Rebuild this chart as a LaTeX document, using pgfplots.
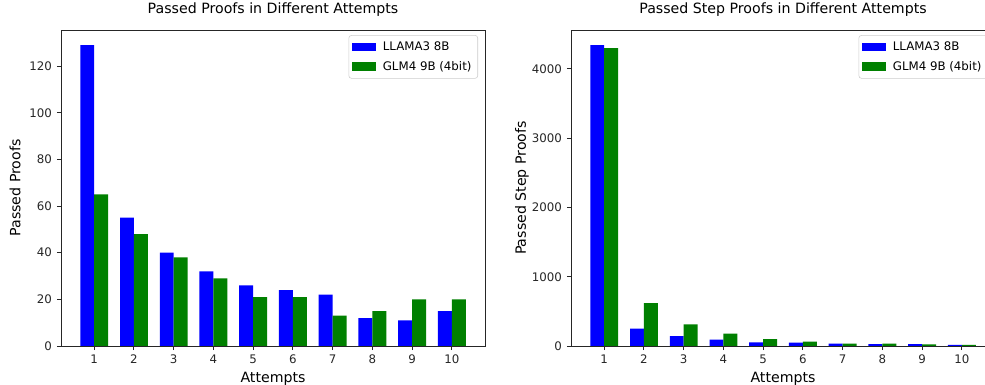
\documentclass[border=0pt]{standalone}
\usepackage{fontspec}
\setmainfont{DejaVu Sans}
\usepackage{pgfplots}
\pgfplotsset{compat=1.18}
\definecolor{mblue}{RGB}{0,0,255}
\definecolor{mgreen}{RGB}{0,128,0}
\pgfplotsset{
 mystyle/.style={
  width=305.3pt, height=227.5pt, scale only axis,
  xmin=0.165, xmax=10.835, ymin=0,
  xtick={1,...,10},
  tick align=outside, xtick pos=bottom, ytick pos=left,
  major tick length=3pt,
  every tick/.style={black!85, line width=0.68pt},
  axis line style={black!85, line width=0.68pt},
  tick label style={font=\fontsize{8.5}{10}\selectfont, text=black!85},
  every axis x label/.style={at={(axis description cs:0.5,0)}, anchor=base, yshift=-26.6pt, font=\fontsize{10.2}{12}\selectfont},
  title style={at={(axis description cs:0.5,1)}, anchor=base, yshift=5.8pt, font=\fontsize{10.2}{12}\selectfont},
  /pgf/number format/assume math mode=true,
  /pgf/number format/1000 sep={},
  ybar, bar width=0.35,
  legend style={at={(0.9835,0.984)}, anchor=north east, draw=black!20, rounded corners=2pt,
    font=\fontsize{8.5}{10}\selectfont, cells={anchor=west}, inner sep=2.5pt, row sep=2.2pt},
  legend image code/.code={\fill[##1, sharp corners] (0pt,-3pt) rectangle (17pt,3pt); \path (20pt,0pt);},
  xlabel={Attempts},
 }
}
\pgfplotstableread{
x llama glm
1 129 65
2 55 48
3 40 38
4 32 29
5 26 21
6 24 21
7 22 13
8 12 15
9 11 20
10 15 20
}\proofs
\pgfplotstableread{
x llama glm
1 4345 4302
2 250 620
3 144 312
4 91 178
5 53 100
6 50 62
7 33 33
8 28 36
9 28 25
10 15 15
}\steps
\begin{document}
\begin{tikzpicture}
\path[use as bounding box] (0,0) rectangle (709.2pt,-277.2pt);
\begin{axis}[mystyle, at={(43.92pt,-249.12pt)}, anchor=south west,
  ymax=135.45, ytick={0,20,...,120},
  every axis y label/.style={at={(axis description cs:-0.1085,0.5)}, rotate=90, anchor=center, font=\fontsize{10.2}{12}\selectfont},
  title={Passed Proofs in Different Attempts}, ylabel={Passed Proofs}]
\addplot[fill=mblue, draw=none, bar shift=-0.175] table[x=x,y=llama]{\proofs};
\addplot[fill=mgreen, draw=none, bar shift=0.175] table[x=x,y=glm]{\proofs};
\legend{LLAMA3 8B, GLM4 9B (4bit)}
\end{axis}
\begin{axis}[mystyle, at={(411.12pt,-249.12pt)}, anchor=south west,
  ymax=4562, ytick={0,1000,...,4000},
  every axis y label/.style={at={(axis description cs:-0.1156,0.5)}, rotate=90, anchor=center, font=\fontsize{10.2}{12}\selectfont},
  title={Passed Step Proofs in Different Attempts}, ylabel={Passed Step Proofs}]
\addplot[fill=mblue, draw=none, bar shift=-0.175] table[x=x,y=llama]{\steps};
\addplot[fill=mgreen, draw=none, bar shift=0.175] table[x=x,y=glm]{\steps};
\legend{LLAMA3 8B, GLM4 9B (4bit)}
\end{axis}
\end{tikzpicture}
\end{document}
